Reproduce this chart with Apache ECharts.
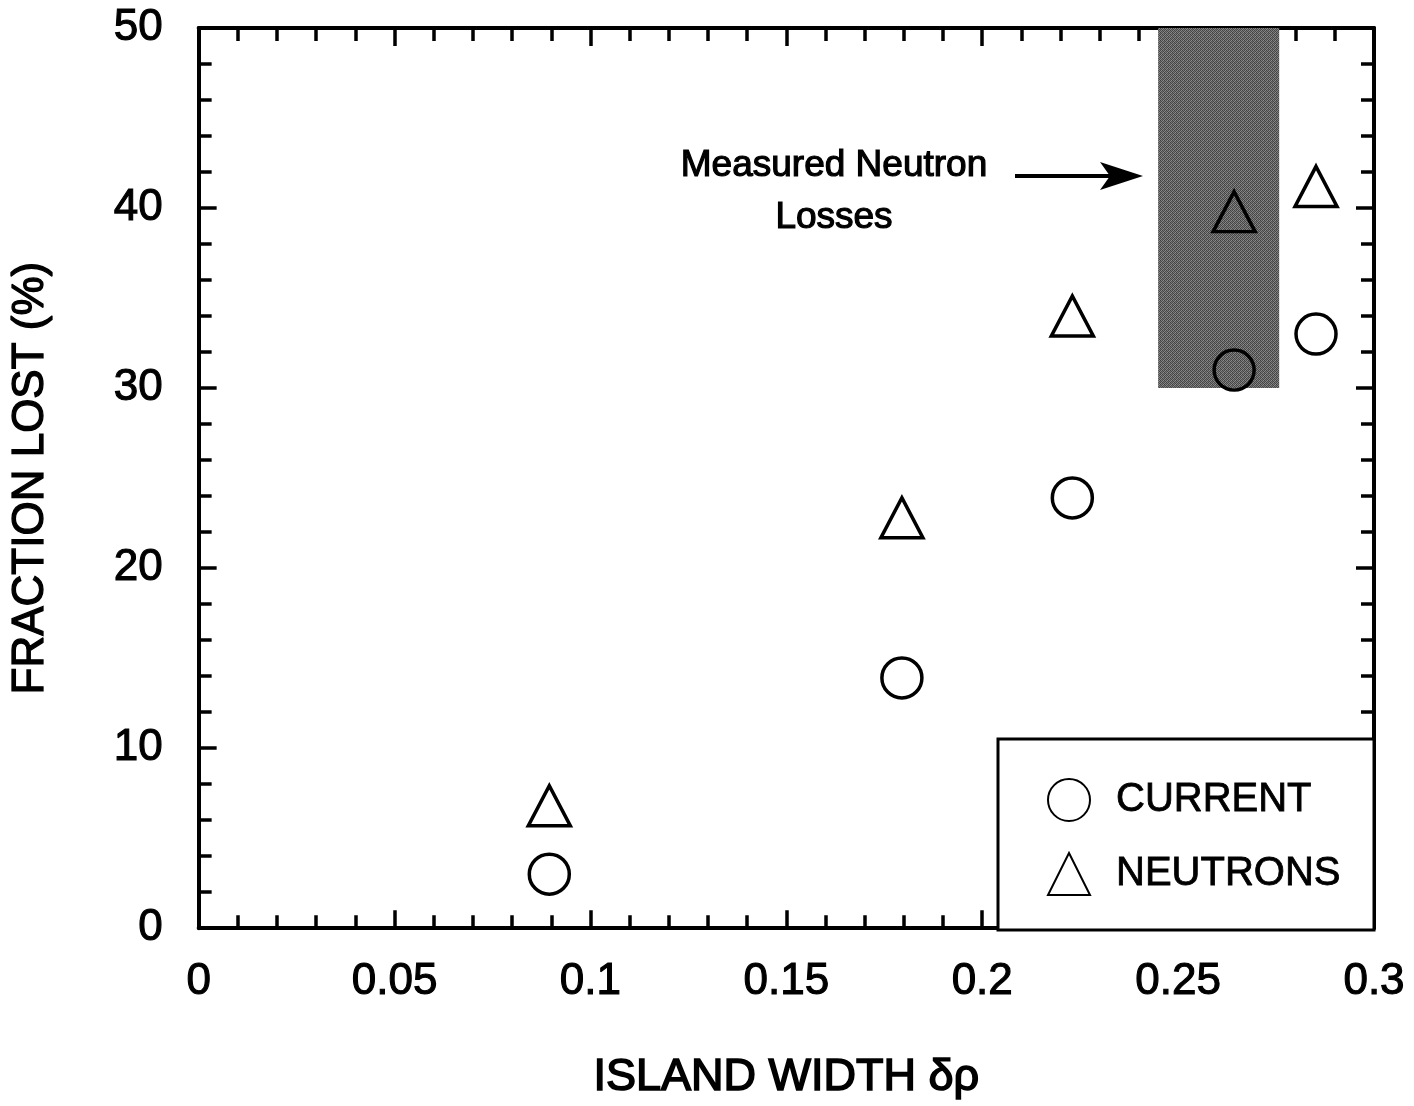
<!DOCTYPE html>
<html>
<head>
<meta charset="utf-8" />
<title>Fraction lost vs island width</title>
<script src="https://cdn.jsdelivr.net/npm/echarts@6/dist/echarts.min.js"></script>
<style>
    html, body { margin: 0; padding: 0; background: #fff; }
    #main { width: 1414px; height: 1106px; }
</style>
</head>
<body>
<div id="main"></div>
<script type="text/javascript">
// values
var islandWidth = [0.0895, 0.1795, 0.223, 0.2643, 0.2852];
var currentLost = [3.0, 13.9, 23.9, 31.0, 33.0];
var neutronLost = [6.8, 22.8, 34.0, 39.8, 41.2];
var xTicks = [0, 0.05, 0.1, 0.15, 0.2, 0.25, 0.3];
var yTicks = [0, 10, 20, 30, 40, 50];
// measured neutron losses band: [x from, x to], [y from, y to]
var bandX = [0.2449, 0.2758];
var bandY = [30, 50];

var FONT = '"Liberation Sans", Arial, Helvetica, sans-serif';

function pairs(xs, ys) {
    var out = [];
    for (var i = 0; i < xs.length; i++) {
        out.push([xs[i], ys[i]]);
    }
    return out;
}

// a little outline makes the text as heavy as the scanned original
function txt(size, heavy) {
    return { fontFamily: FONT, fontSize: size, color: '#000',
             textBorderColor: '#000', textBorderWidth: heavy || 1.1 };
}

// grey speckled fill for the measured band
function speckle() {
    var c = document.createElement('canvas');
    c.width = 4; c.height = 4;
    var g = c.getContext('2d');
    var shades = ['#3e3e3e', '#808080', '#4c4c4c', '#8e8e8e',
                  '#6e6e6e', '#444444', '#888888', '#505050',
                  '#484848', '#8a8a8a', '#424242', '#7a7a7a',
                  '#848484', '#4e4e4e', '#727272', '#464646'];
    for (var i = 0; i < 16; i++) {
        g.fillStyle = shades[i];
        g.fillRect(i % 4, Math.floor(i / 4), 1, 1);
    }
    return c;
}

function tickSet(show) {
    return {
        axisLine: { show: true, onZero: false, lineStyle: { color: '#000', width: 4 } },
        axisTick: { show: true, inside: true, length: 18, lineStyle: { color: '#000', width: 3.5 } },
        minorTick: { show: true, splitNumber: 5, length: 13, lineStyle: { color: '#000', width: 3.5 } },
        splitLine: { show: false },
        axisLabel: { show: show }
    };
}

var xBottom = Object.assign(tickSet(true), {
    type: 'value', position: 'bottom',
    min: xTicks[0], max: xTicks[xTicks.length - 1], interval: 0.05,
    name: 'ISLAND WIDTH \u03b4\u03c1', nameLocation: 'middle', nameGap: 127,
    nameTextStyle: txt(45, 1.6)
});
xBottom.axisLabel = Object.assign({ show: true, margin: 32 }, txt(44));

var xTop = Object.assign(tickSet(false), {
    type: 'value', position: 'top',
    min: xTicks[0], max: xTicks[xTicks.length - 1], interval: 0.05
});

var yLeft = Object.assign(tickSet(true), {
    type: 'value', position: 'left',
    min: yTicks[0], max: yTicks[yTicks.length - 1], interval: 10,
    name: 'FRACTION LOST (%)', nameLocation: 'middle', nameGap: 146,
    nameTextStyle: txt(44, 1.3)
});
yLeft.axisLabel = Object.assign({ show: true, margin: 36 }, txt(44));

var yRight = Object.assign(tickSet(false), {
    type: 'value', position: 'right',
    min: yTicks[0], max: yTicks[yTicks.length - 1], interval: 10
});

var option = {
    animation: false,
    backgroundColor: '#fff',
    grid: { left: 198, right: 40, top: 28, bottom: 176 },
    xAxis: [xBottom, xTop],
    yAxis: [yLeft, yRight],
    legend: {
        orient: 'vertical',
        left: 1047, top: 778,
        padding: 0,
        z: 20,
        itemWidth: 42, itemHeight: 42, itemGap: 30,
        textStyle: Object.assign({ padding: [0, 0, 0, 21] }, txt(40, 0.8)),
        data: ['CURRENT', 'NEUTRONS']
    },
    graphic: [
        {   // legend frame
            type: 'rect', z: 15,
            shape: { x: 998, y: 739, width: 376, height: 191 },
            style: { fill: '#fff', stroke: '#000', lineWidth: 3 }
        },
        {
            type: 'text', z: 15,
            style: {
                x: 834, y: 140, text: 'Measured Neutron\nLosses',
                fontFamily: FONT, fontSize: 37, lineHeight: 52,
                fill: '#000', stroke: '#000', lineWidth: 1.2,
                align: 'center', verticalAlign: 'top'
            }
        },
        {
            type: 'line', z: 15,
            shape: { x1: 1015, y1: 176, x2: 1112, y2: 176 },
            style: { stroke: '#000', lineWidth: 4 }
        },
        {
            type: 'polygon', z: 15,
            shape: { points: [[1143, 176], [1100, 162], [1110, 176], [1100, 190]] },
            style: { fill: '#000' }
        }
    ],
    series: [
        {
            name: 'CURRENT',
            type: 'scatter',
            symbol: 'circle',
            symbolSize: 40,
            z: 5,
            itemStyle: { color: 'rgba(0,0,0,0)', borderColor: '#000', borderWidth: 3.5, opacity: 1 },
            data: pairs(islandWidth, currentLost)
        },
        {
            name: 'NEUTRONS',
            type: 'scatter',
            symbol: 'triangle',
            symbolSize: [42, 40],
            z: 5,
            itemStyle: { color: 'rgba(0,0,0,0)', borderColor: '#000', borderWidth: 3.5, opacity: 1 },
            data: pairs(islandWidth, neutronLost),
            markArea: {
                silent: true,
                itemStyle: { color: { image: speckle(), repeat: 'repeat' } },
                data: [[{ xAxis: bandX[0], yAxis: bandY[0] }, { xAxis: bandX[1], yAxis: bandY[1] }]]
            }
        }
    ]
};

var chart = echarts.init(document.getElementById('main'));
chart.setOption(option);
</script>
</body>
</html>
